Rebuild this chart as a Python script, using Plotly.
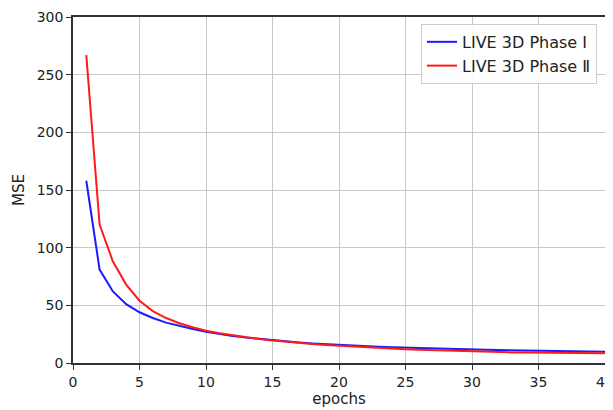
import plotly.graph_objects as go

epochs = list(range(1, 41))
phase1 = [158, 81, 62, 51, 44, 39, 35, 32, 29.5, 27, 25, 23.5, 22, 20.8, 19.7, 18.7, 17.8, 17, 16.3, 15.6,
          15, 14.5, 14, 13.6, 13.2, 12.8, 12.5, 12.2, 11.9, 11.6, 11.4, 11.2, 11, 10.8, 10.6, 10.4, 10.2, 10.1, 10, 9.8]
phase2 = [267, 120, 88, 68, 54, 45, 39, 34.5, 31, 28, 25.8, 24, 22.3, 20.8, 19.5, 18.3, 17.3, 16.4, 15.6, 14.9,
          14.2, 13.6, 13, 12.5, 12, 11.5, 11.1, 10.7, 10.3, 10, 9.7, 9.4, 9.2, 9.0, 8.9, 8.8, 8.7, 8.6, 8.5, 8.4]

fig = go.Figure()
fig.add_trace(go.Scatter(x=epochs, y=phase1, mode="lines", name="LIVE 3D Phase Ⅰ",
                         line=dict(color="#1a1aff", width=2)))
fig.add_trace(go.Scatter(x=epochs, y=phase2, mode="lines", name="LIVE 3D Phase Ⅱ",
                         line=dict(color="#ff1a1a", width=2)))

axis_common = dict(showline=True, linecolor="#333333", linewidth=1.5, mirror=True,
                   ticks="outside", ticklen=5, tickcolor="#333333", automargin=False,
                   ticklabeloverflow="allow",
                   showgrid=True, gridcolor="#c8c8c8", gridwidth=1, zeroline=False,
                   tickfont=dict(family="DejaVu Sans", size=14, color="#222222"))

# page body adds an 8px offset, so the figure is 8px smaller on each side
fig.update_layout(
    width=605, height=402,
    margin=dict(l=65, r=8, t=9, b=47),
    paper_bgcolor="white", plot_bgcolor="white",
    font=dict(family="DejaVu Sans", size=14, color="#222222"),
    xaxis=dict(range=[0, 40], dtick=5, title=dict(text="epochs", standoff=2,
               font=dict(size=15)), **axis_common),
    yaxis=dict(range=[0, 300], dtick=50, title=dict(text="MSE", standoff=8,
               font=dict(size=15)), **axis_common),
    legend=dict(x=0.985, y=0.98, xanchor="right", yanchor="top",
                bgcolor="rgba(255,255,255,0.9)", bordercolor="#cccccc", borderwidth=1,
                font=dict(family="DejaVu Sans", size=16, color="#222222")),
    showlegend=True,
)

fig.write_html("out.html")
